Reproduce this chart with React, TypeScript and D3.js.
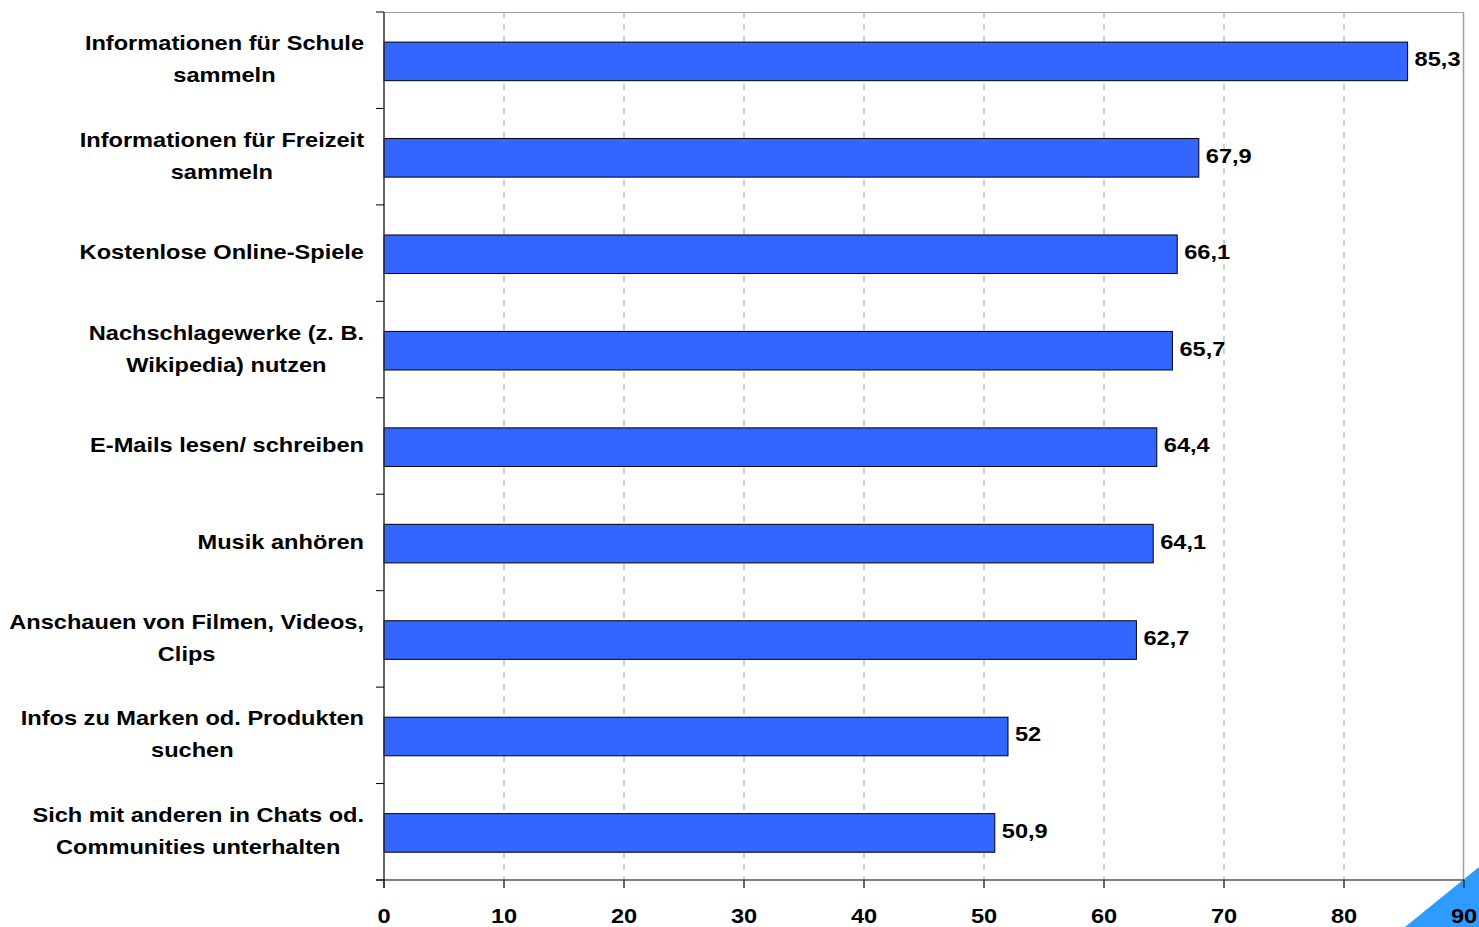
import React, { useEffect, useRef } from "react";
import * as d3 from "d3";

const categories: string[] = [
  "Informationen für Schule\nsammeln",
  "Informationen für Freizeit\nsammeln",
  "Kostenlose Online-Spiele",
  "Nachschlagewerke (z. B.\nWikipedia) nutzen",
  "E-Mails lesen/ schreiben",
  "Musik anhören",
  "Anschauen von Filmen, Videos,\nClips",
  "Infos zu Marken od. Produkten\nsuchen",
  "Sich mit anderen in Chats od.\nCommunities unterhalten",
];
const values: number[] = [85.3, 67.9, 66.1, 65.7, 64.4, 64.1, 62.7, 52, 50.9];
const valueLabels: string[] = ["85,3", "67,9", "66,1", "65,7", "64,4", "64,1", "62,7", "52", "50,9"];
const xTicks: number[] = [0, 10, 20, 30, 40, 50, 60, 70, 80, 90];

const W = 1479;
const H = 927;
const FONT = "'Liberation Sans', Arial, sans-serif";
const SX = 1.18;

export default function App() {
  const ref = useRef<SVGSVGElement | null>(null);

  useEffect(() => {
    const svg = d3.select(ref.current);
    svg.selectAll("*").remove();

    const left = 384, right = 1464, top = 12, bottom = 880;
    const x = d3.scaleLinear().domain([0, 90]).range([left, right]);
    const y = d3.scaleBand<number>().domain(d3.range(categories.length)).range([top, bottom])
      .paddingInner(0.6).paddingOuter(0.3).align(0.52);
    const band = d3.scaleBand<number>().domain(d3.range(categories.length)).range([top, bottom]);

    const addText = (parent: any, tx: number, ty: number, txt: string, anchor: string) => {
      const g = parent.append("g").attr("transform", `translate(${tx},${ty}) scale(${SX},1)`);
      return g.append("text")
        .attr("font-family", FONT).attr("font-weight", "bold").attr("font-size", 20)
        .attr("fill", "#000").attr("text-anchor", anchor).text(txt);
    };

    // corner triangle
    svg.append("polygon")
      .attr("points", `1405,${H} ${W},867 ${W},${H}`)
      .attr("fill", "#2F9BFF");

    // grid
    svg.append("g").selectAll("line").data(xTicks.filter(t => t > 0 && t < 90)).join("line")
      .attr("x1", d => x(d)).attr("x2", d => x(d))
      .attr("y1", top).attr("y2", bottom)
      .attr("stroke", "#a0a0a0").attr("stroke-width", 1).attr("stroke-dasharray", "6,6");

    // top and right borders
    svg.append("line").attr("x1", left).attr("x2", x(90)).attr("y1", top + 0.5).attr("y2", top + 0.5)
      .attr("stroke", "#a0a0a0").attr("stroke-width", 1);
    svg.append("line").attr("x1", x(90) - 0.5).attr("x2", x(90) - 0.5).attr("y1", top).attr("y2", bottom)
      .attr("stroke", "#a0a0a0").attr("stroke-width", 1.5);

    // bars
    svg.append("g").selectAll("rect").data(values).join("rect")
      .attr("x", x(0))
      .attr("y", (_, i) => y(i)!)
      .attr("width", d => x(d) - x(0))
      .attr("height", y.bandwidth())
      .attr("fill", "#3366FF")
      .attr("stroke", "#000").attr("stroke-width", 1);

    // value labels
    const vg = svg.append("g");
    values.forEach((d, i) => {
      addText(vg, x(d) + 7, y(i)! + y.bandwidth() / 2 - 2, valueLabels[i], "start").attr("dy", "0.35em");
    });

    // axes lines
    svg.append("line").attr("x1", left).attr("x2", left).attr("y1", top).attr("y2", bottom + 8)
      .attr("stroke", "#333").attr("stroke-width", 1.5);
    svg.append("line").attr("x1", left - 8).attr("x2", x(90)).attr("y1", bottom).attr("y2", bottom)
      .attr("stroke", "#000").attr("stroke-width", 1);

    // y ticks at band boundaries
    const yBounds = d3.range(categories.length + 1).map(i => (i < categories.length ? band(i)! : bottom));
    svg.append("g").selectAll("line").data(yBounds).join("line")
      .attr("x1", left - 8).attr("x2", left).attr("y1", d => d).attr("y2", d => d)
      .attr("stroke", "#000").attr("stroke-width", 1);

    // x ticks
    svg.append("g").selectAll("line").data(xTicks).join("line")
      .attr("x1", d => x(d)).attr("x2", d => x(d)).attr("y1", bottom).attr("y2", bottom + 8)
      .attr("stroke", "#333").attr("stroke-width", 1.5);
    const xg = svg.append("g");
    xTicks.forEach(t => {
      addText(xg, x(t), 923, String(t), "middle");
    });

    // category labels
    const labelRight = 364;
    const lineH = 32;
    categories.forEach((c, i) => {
      const lines = c.split("\n");
      const g = svg.append("g");
      const cy = y(i)! + y.bandwidth() / 2 - 2;
      const start = cy - ((lines.length - 1) * lineH) / 2;
      const texts = lines.map((l, j) => addText(g, 0, start + j * lineH, l, "middle").attr("dy", "0.35em"));
      const widths = texts.map(t => (t.node() as SVGTextElement).getComputedTextLength() * SX);
      const maxW = Math.max(...widths);
      const cx = labelRight - maxW / 2;
      texts.forEach((t, j) => {
        (d3.select((t.node() as SVGTextElement).parentNode as any))
          .attr("transform", `translate(${cx},${start + j * lineH}) scale(${SX},1)`);
      });
    });
  }, []);

  return (
    <svg ref={ref} width={W} height={H} style={{ position: "absolute", left: 0, top: 0, background: "#fff" }} />
  );
}
